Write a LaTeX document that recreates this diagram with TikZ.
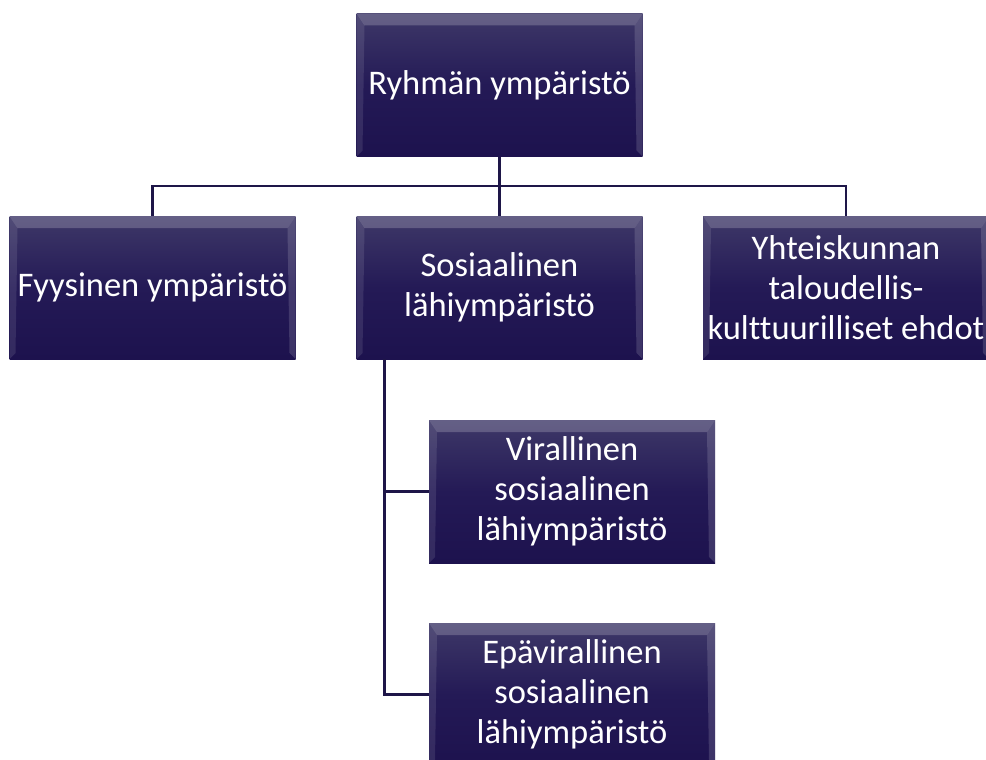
\documentclass[tikz,border=0pt]{standalone}
\usepackage{fontspec}
\setmainfont{Carlito}[Ligatures=NoCommon]
\usetikzlibrary{positioning,calc}
\definecolor{boxtop}{RGB}{62,56,104}
\definecolor{boxmid}{RGB}{36,26,86}
\definecolor{boxbot}{RGB}{29,18,78}
\definecolor{linecol}{RGB}{30,22,72}
\tikzset{
  orgbox/.style={rectangle, minimum width=286pt, minimum height=143pt,
    inner sep=0pt, top color=boxtop, bottom color=boxbot, middle color=boxmid,
    text=white, align=center,
    font=\fontsize{34.5pt}{40pt}\selectfont,
    path picture={
      \fill[white,opacity=0.2] (path picture bounding box.north west) -- (path picture bounding box.north east) -- ([xshift=-8pt,yshift=-12pt]path picture bounding box.north east) -- ([xshift=8pt,yshift=-12pt]path picture bounding box.north west) -- cycle;
      \fill[white,opacity=0.1] (path picture bounding box.north west) -- (path picture bounding box.south west) -- ([xshift=6pt,yshift=6pt]path picture bounding box.south west) -- ([xshift=8pt,yshift=-12pt]path picture bounding box.north west) -- cycle;
      \fill[white,opacity=0.14] (path picture bounding box.north east) -- (path picture bounding box.south east) -- ([xshift=-6pt,yshift=6pt]path picture bounding box.south east) -- ([xshift=-8pt,yshift=-12pt]path picture bounding box.north east) -- cycle;
    }},
  conn/.style={draw=linecol, line width=2.5pt}
}
\begin{document}
\begin{tikzpicture}[x=1pt,y=1pt]
\useasboundingbox (0,0) rectangle (986,-760);
\fill[white] (0,0) rectangle (986,-760);
\node[orgbox] (top) at (499.5,-85) {Ryhmän ympäristö};
\node[orgbox] (fyys) at (152.5,-287.5) {Fyysinen ympäristö};
\node[orgbox] (sos) at (499.5,-287.5) {Sosiaalinen\\lähiympäristö};
\node[orgbox] (yht) at (846,-287.5) {Yhteiskunnan\\taloudellis-\\kulttuurilliset ehdot};
\node[orgbox] (vir) at (572,-491.5) {Virallinen\\sosiaalinen\\lähiympäristö};
\node[orgbox] (epa) at (572,-694.5) {Epävirallinen\\sosiaalinen\\lähiympäristö};
\coordinate (bar) at (499.5,-186);
\draw[conn] (top.south) -- (sos.north);
\draw[conn] (top.south) |- (bar) -| (fyys.north);
\draw[conn] (top.south) |- (bar) -| (yht.north);
\coordinate (vine) at ([xshift=28pt]sos.south west);
\draw[conn] (vine) |- (vir.west);
\draw[conn] (vine) |- (epa.west);
\end{tikzpicture}
\end{document}
